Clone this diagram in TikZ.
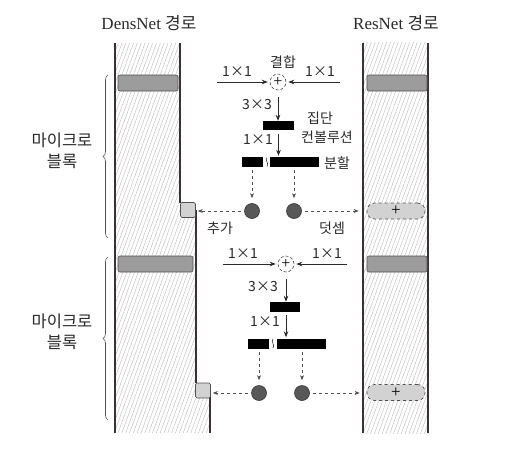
\documentclass[tikz,border=0pt]{standalone}
\usepackage{fontspec}
\setmainfont{Liberation Serif}
\newfontfamily\kr{Noto Sans CJK KR}
\usetikzlibrary{patterns.meta,arrows.meta,decorations.pathreplacing}
\definecolor{lineC}{HTML}{3A3232}
\definecolor{barG}{HTML}{9C9C9C}
\definecolor{barD}{HTML}{505050}
\definecolor{lightG}{HTML}{D2D2D2}
\definecolor{dotG}{HTML}{585858}
\definecolor{txt}{HTML}{2A2A2A}
\definecolor{hatchC}{HTML}{C4C4C4}
\tikzset{
  colline/.style={line width=1.4pt, draw=lineC},
  hatch/.style={pattern={Lines[angle=70,distance=3.6pt,line width=0.5pt]}, pattern color=hatchC},
  graybar/.style={rectangle, rounded corners=2pt, fill=barG, draw=barD, line width=0.6pt, inner sep=0pt},
  addbox/.style={rectangle, rounded corners=1.5pt, fill=lightG, draw=barD, line width=0.6pt, inner sep=0pt, minimum width=15pt, minimum height=15pt},
  sumbox/.style={rectangle, rounded corners=7.5pt, fill=lightG, draw=barD, dashed, line width=0.7pt, inner sep=0pt, minimum width=58pt, minimum height=16pt, font=\fontsize{17}{17}\selectfont},
  blk/.style={rectangle, fill=black, inner sep=0pt},
  dot/.style={circle, fill=dotG, draw=lineC, line width=0.6pt, minimum size=15pt, inner sep=0pt},
  plusc/.style={circle, draw=txt, densely dashed, line width=0.5pt, minimum size=16pt, inner sep=0pt, font=\fontsize{16}{16}\selectfont},
  arr/.style={-{Stealth[length=6pt,width=4.5pt]}, line width=0.8pt, draw=txt},
  darr/.style={-{Stealth[length=5pt,width=4pt]}, dashed, line width=0.7pt, draw=barD},
  lbl/.style={font=\kr\fontsize{14}{14}\selectfont, text=txt, inner sep=0pt},
  ttl/.style={font=\fontsize{17}{17}\selectfont, text=txt, inner sep=0pt},
  mlbl/.style={font=\kr\fontsize{16.5}{16.5}\selectfont, text=txt, inner sep=0pt},
  brc/.style={decorate, decoration={brace, amplitude=5pt}, line width=0.6pt, draw=barD}
}
\begin{document}
\begin{tikzpicture}[x=1pt,y=-1pt]
\useasboundingbox (0,0) rectangle (510,452);
% ---- columns
\fill[hatch] (115,43) -- (180,43) -- (180,203) -- (196,203) -- (196,383) -- (210,383) -- (210,433) -- (115,433) -- cycle;
\fill[hatch] (363,43) rectangle (428,433);
\draw[colline] (115,43) -- (115,433);
\draw[colline] (180,43) -- (180,203);
\draw[colline] (196,210) -- (196,383);
\draw[colline] (210,390) -- (210,433);
\draw[colline] (363,43) -- (363,433);
\draw[colline] (428,43) -- (428,433);
% titles
\node[ttl] (tD) at (149,23) {DensNet {\kr 경로}};
\node[ttl] (tR) at (396,23) {ResNet {\kr 경로}};
% gray bars
\node[graybar, minimum width=60pt, minimum height=16pt] (dbar1) at (148,83) {};
\node[graybar, minimum width=75pt, minimum height=16pt] (dbar2) at (155.5,264) {};
\node[graybar, minimum width=60pt, minimum height=16pt] (rbar1) at (397,83) {};
\node[graybar, minimum width=60pt, minimum height=16pt] (rbar2) at (397,264) {};
% add boxes (DensNet)
\node[addbox] (add1) at (188,210) {};
\node[addbox] (add2) at (203,390.5) {};
% sum boxes (ResNet)
\node[sumbox] (sum1) at (396,211) {+};
\node[sumbox] (sum2) at (396,392.5) {+};
% braces and labels
\draw[brc] (108,238) -- (108,75);
\draw[brc] (108,420) -- (108,257);
\node[mlbl] (m1a) at (62,140) {마이크로};
\node[mlbl] (m1b) at (62,161) {블록};
\node[mlbl] (m2a) at (62,321) {마이크로};
\node[mlbl] (m2b) at (62,342) {블록};
% ---------------- block 1
\node[plusc] (p1) at (278,82) {+};
\coordinate (in1l) at (217,82);
\coordinate (in1r) at (340,82);
\draw[arr, shorten >=2pt] (in1l) -- (p1);
\draw[arr, shorten >=2pt] (in1r) -- (p1);
\node[lbl] (l1a) at (237,72) {1×1};
\node[lbl] (l1b) at (320,72) {1×1};
\node[lbl] (k1) at (283,62) {결합};
\node[blk, minimum width=31pt, minimum height=9pt] (b1) at (278.5,125.5) {};
\draw[arr, shorten <=7pt] (p1.south) -- (p1.south |- b1.north);
\node[lbl] (l1c) at (257,105) {3×3};
\node[lbl] (g1a) at (320,118) {집단};
\node[lbl] (g1b) at (327,137) {컨볼루션};
\node[blk, minimum width=21pt, minimum height=10pt] (bL1) at (252.5,162) {};
\node[blk, minimum width=49pt, minimum height=10pt] (bR1) at (294.5,162) {};
\draw[line width=0.6pt, draw=txt] (267,157.5) .. controls (264.5,160) and (269.5,164) .. (267,166.5);
\draw[arr, shorten <=4pt, shorten >=1pt] (b1.south) -- (b1.south |- bR1.north);
\node[lbl] (l1d) at (258,140) {1×1};
\node[lbl] (s1) at (337,163) {분할};
\node[dot] (cL1) at (252,211) {};
\node[dot] (cR1) at (294,211) {};
\draw[darr, shorten <=3pt, shorten >=5pt] (cL1 |- bL1.south) -- (cL1.north);
\draw[darr, shorten <=3pt, shorten >=5pt] (cR1 |- bR1.south) -- (cR1.north);
\draw[darr, shorten <=3pt, shorten >=2pt] (cL1.west) -- (cL1.west -| add1.east);
\draw[darr, shorten <=3pt, shorten >=8pt] (cR1.east) -- (cR1.east -| sum1.west);
\node[lbl] (a1) at (220,228) {추가};
\node[lbl] (d1) at (332,228) {덧셈};
% ---------------- block 2
\node[plusc] (p2) at (286,264) {+};
\coordinate (in2l) at (223,264);
\coordinate (in2r) at (347,264);
\draw[arr, shorten >=2pt] (in2l) -- (p2);
\draw[arr, shorten >=2pt] (in2r) -- (p2);
\node[lbl] (l2a) at (243,254) {1×1};
\node[lbl] (l2b) at (327,254) {1×1};
\node[blk, minimum width=30pt, minimum height=10pt] (b2) at (285,307) {};
\draw[arr, shorten <=7pt] (p2.south) -- (p2.south |- b2.north);
\node[lbl] (l2c) at (263,287) {3×3};
\node[blk, minimum width=21pt, minimum height=10pt] (bL2) at (258.5,343.5) {};
\node[blk, minimum width=49pt, minimum height=10pt] (bR2) at (301.5,343.5) {};
\draw[line width=0.6pt, draw=txt] (273,339) .. controls (270.5,341.5) and (275.5,345.5) .. (273,348);
\draw[arr, shorten <=3pt, shorten >=1pt] (b2.south -| p2.south) -- (bR2.north -| p2.south);
\node[lbl] (l2d) at (265,322) {1×1};
\node[dot] (cL2) at (259,393) {};
\node[dot] (cR2) at (302,393) {};
\draw[darr, shorten <=3pt, shorten >=5pt] (cL2 |- bL2.south) -- (cL2.north);
\draw[darr, shorten <=3pt, shorten >=5pt] (cR2 |- bR2.south) -- (cR2.north);
\draw[darr, shorten <=3pt, shorten >=2pt] (cL2.west) -- (cL2.west -| add2.east);
\draw[darr, shorten <=3pt, shorten >=7pt] (cR2.east) -- (cR2.east -| sum2.west);
\end{tikzpicture}
\end{document}
